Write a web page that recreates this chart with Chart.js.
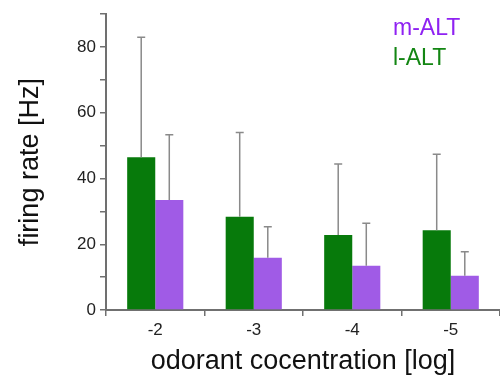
<!DOCTYPE html>
<html>
<head>
<meta charset="utf-8">
<script src="https://cdn.jsdelivr.net/npm/chart.js@4/dist/chart.umd.min.js"></script>
<style>
  html, body { margin: 0; padding: 0; background: #fff; }
  #wrap { width: 500px; height: 375px; }
</style>
</head>
<body>
<div id="wrap"><canvas id="chart" width="500" height="375"></canvas></div>
<script>
// Данные графика
const concentrations = ['-2', '-3', '-4', '-5'];
const lAltRates = [46.5, 28.4, 22.8, 24.3];
const lAltErrors = [36.5, 25.6, 21.6, 23.1];
const mAltRates = [33.5, 15.9, 13.5, 10.4];
const mAltErrors = [19.8, 9.4, 12.9, 7.3];

const GREEN = '#077a0b';
const PURPLE = '#a05be6';
const AXIS = '#707070';
const FONT = '"Liberation Sans", Arial, sans-serif';

// Усы погрешностей (только вверх)
const errorBars = {
  id: 'errorBars',
  afterDatasetsDraw(chart) {
    const ctx = chart.ctx;
    const y = chart.scales.y;
    const errs = [lAltErrors, mAltErrors];
    ctx.save();
    ctx.strokeStyle = '#8a8a8a';
    ctx.lineWidth = 1.5;
    chart.data.datasets.forEach((ds, i) => {
      chart.getDatasetMeta(i).data.forEach((bar, j) => {
        const top = y.getPixelForValue(ds.data[j] + errs[i][j]);
        ctx.beginPath();
        ctx.moveTo(bar.x, bar.y);
        ctx.lineTo(bar.x, top);
        ctx.moveTo(bar.x - 4, top);
        ctx.lineTo(bar.x + 4, top);
        ctx.stroke();
      });
    });
    ctx.restore();
  }
};

// Подписи серий
const seriesLabels = {
  id: 'seriesLabels',
  afterDraw(chart) {
    const ctx = chart.ctx;
    ctx.save();
    ctx.font = '23px ' + FONT;
    ctx.textBaseline = 'middle';
    ctx.fillStyle = '#8f22f2';
    ctx.fillText('m-ALT', 393, 29);
    ctx.fillStyle = '#138613';
    ctx.fillText('l-ALT', 393, 59);
    ctx.restore();
  }
};

new Chart(document.getElementById('chart'), {
  type: 'bar',
  data: {
    labels: concentrations,
    datasets: [
      { label: 'l-ALT', data: lAltRates, backgroundColor: GREEN },
      { label: 'm-ALT', data: mAltRates, backgroundColor: PURPLE }
    ]
  },
  options: {
    responsive: false,
    animation: false,
    devicePixelRatio: 1,
    layout: { padding: { top: 14, right: 0, left: 0, bottom: 0 } },
    datasets: { bar: { categoryPercentage: 0.57, barPercentage: 1 } },
    plugins: { legend: { display: false }, tooltip: { enabled: false } },
    scales: {
      x: {
        afterFit(scale) { scale.height = 65; },
        grid: { display: true, drawOnChartArea: false, offset: true, tickLength: 6, color: AXIS, lineWidth: 1.5 },
        border: { color: AXIS, width: 2 },
        ticks: { color: '#222', font: { family: FONT, size: 17 }, padding: 4 },
        title: {
          display: true, text: 'odorant cocentration [log]', color: '#111',
          font: { family: FONT, size: 27, lineHeight: 1 },
          padding: { top: 0, bottom: 0 }
        }
      },
      y: {
        min: 0, max: 90,
        afterFit(scale) { scale.width = 106; },
        grid: { display: true, drawOnChartArea: false, tickLength: 6, color: AXIS, lineWidth: 1.5 },
        border: { color: AXIS, width: 2 },
        ticks: {
          stepSize: 10, autoSkip: false, color: '#222', padding: 4,
          font: { family: FONT, size: 17 },
          callback: v => (v % 20 === 0 ? v : '')
        },
        title: {
          display: true, text: 'firing rate [Hz]', color: '#111',
          font: { family: FONT, size: 27, lineHeight: 1 },
          padding: { top: 17, bottom: 0 }
        }
      }
    }
  },
  plugins: [errorBars, seriesLabels]
});
</script>
</body>
</html>
